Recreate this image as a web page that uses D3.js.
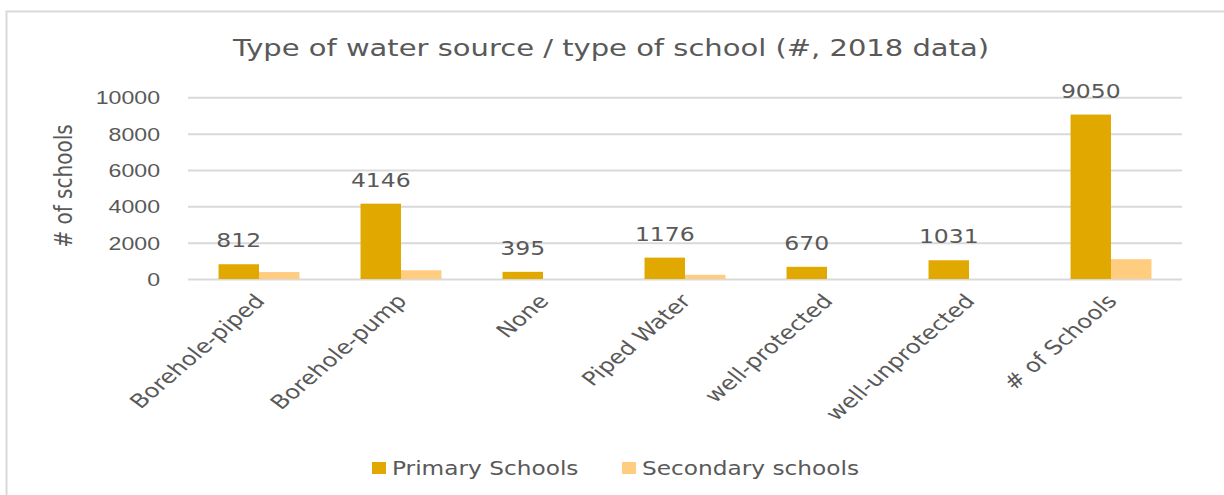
<!DOCTYPE html>
<html>
<head>
<meta charset="utf-8">
<script src="https://cdn.jsdelivr.net/npm/d3@7"></script>
<style>
  html, body { margin: 0; padding: 0; background: #ffffff; }
  svg { display: block; font-family: "DejaVu Sans", Verdana, sans-serif; }
</style>
</head>
<body>
<svg id="chart" width="1224" height="495"></svg>
<script>
const categories = ["Borehole-piped", "Borehole-pump", "None", "Piped Water", "well-protected", "well-unprotected", "# of Schools"];
const primarySchools = [812, 4146, 395, 1176, 670, 1031, 9050];
const secondarySchools = [380, 480, 0, 230, 0, 0, 1090];
const seriesNames = ["Primary Schools", "Secondary schools"];
const seriesColors = ["#E1A900", "#FFCC80"];
const yTicks = [0, 2000, 4000, 6000, 8000, 10000];
const titleText = "Type of water source / type of school (#, 2018 data)";
const yAxisTitle = "# of schools";

const svg = d3.select("#chart");
const textColor = "#595959";
const gridColor = "#D9D9D9";
const SX = 1.25; // horizontal glyph stretch seen in the reference

// outer chart border
svg.append("rect").attr("x", 6.5).attr("y", 11.5).attr("width", 1400).attr("height", 600)
  .attr("fill", "#fff").attr("stroke", "#D9D9D9").attr("stroke-width", 2);

const plot = { left: 188, right: 1182, top: 97.3, bottom: 279 };

const x = d3.scaleBand().domain(categories).range([plot.left, plot.right]).paddingInner(0.43).paddingOuter(0.215);
const xs = d3.scaleBand().domain(seriesNames).range([0, x.bandwidth()]);
const y = d3.scaleLinear().domain([0, 10000]).range([plot.bottom, plot.top]);

function stretchedText(parent, px, py, rot, txt, size, anchor) {
  return parent.append("text")
    .attr("transform", `translate(${px},${py}) scale(${SX},1)` + (rot ? ` rotate(${rot})` : ""))
    .attr("text-anchor", anchor).attr("fill", textColor).style("font-size", size + "px")
    .text(txt);
}

// title
stretchedText(svg, 611, 56, 0, titleText, 23.2, "middle");

// gridlines + y axis
const yAxis = d3.axisLeft(y).tickValues(yTicks).tickSize(-(plot.right - plot.left)).tickPadding(28).tickFormat(d3.format("d"));
const gy = svg.append("g").attr("transform", `translate(${plot.left},0)`).call(yAxis);
gy.select(".domain").remove();
gy.selectAll(".tick line").attr("stroke", gridColor).attr("stroke-width", 2);
gy.selectAll(".tick text").attr("fill", textColor).style("font-size", "18.5px").attr("font-family", null)
  .attr("x", 0).attr("dy", "0.35em").attr("transform", `translate(-28,0) scale(${SX},1)`);

// y axis title
stretchedText(svg, 72, 186, -90, yAxisTitle, 20, "middle");

// bars
const rows = categories.map((c, i) => ({ c, vals: [primarySchools[i], secondarySchools[i]] }));
const groups = svg.append("g").selectAll("g").data(rows).join("g")
  .attr("transform", d => `translate(${x(d.c)},0)`);
groups.selectAll("rect").data(d => d.vals.map((v, j) => ({ v, s: seriesNames[j], j })))
  .join("rect")
  .attr("x", d => xs(d.s)).attr("width", xs.bandwidth())
  .attr("y", d => y(d.v)).attr("height", d => y(0) - y(d.v))
  .attr("fill", d => seriesColors[d.j]);

// data labels on primary
groups.each(function (d) {
  stretchedText(d3.select(this), xs(seriesNames[0]) + xs.bandwidth() / 2, y(d.vals[0]) - 17, 0, d.vals[0], 18.8, "middle");
});

// x axis labels
const xl = svg.append("g");
categories.forEach(c => {
  stretchedText(xl, x(c) + x.bandwidth() / 2 + 7, plot.bottom + 23, -47, c, 19.4, "end");
});

// legend
const legend = svg.append("g");
const legX = [372, 622];
seriesNames.forEach((s, i) => {
  legend.append("rect").attr("x", legX[i]).attr("y", 462).attr("width", 14).attr("height", 12).attr("fill", seriesColors[i]);
  stretchedText(legend, legX[i] + 20, 475, 0, s, 18.6, "start");
});
</script>
</body>
</html>
